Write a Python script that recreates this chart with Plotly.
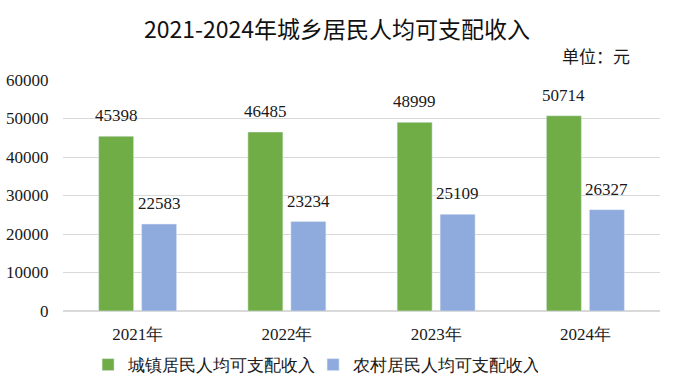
import plotly.graph_objects as go

years = ["2021年", "2022年", "2023年", "2024年"]
urban = [45398, 46485, 48999, 50714]
rural = [22583, 23234, 25109, 26327]
series_names = ["城镇居民人均可支配收入", "农村居民人均可支配收入"]
yticks = [0, 10000, 20000, 30000, 40000, 50000, 60000]
colors = ["#70AD47", "#8FAADC"]

serif = "Liberation Serif"
sans = "Noto Sans CJK SC"
txtcol = "#1a1a1a"

fig = go.Figure()
for name, vals, col in zip(series_names, [urban, rural], colors):
    fig.add_trace(go.Bar(x=years, y=vals, name=name, marker_color=col,
                         cliponaxis=False))

# value labels above bars (offset to each bar's slot within the group)
for vals, shift in zip([urban, rural], [-21.5, 21.5]):
    for xv, yv in zip(years, vals):
        fig.add_annotation(x=xv, y=yv, text=str(yv), showarrow=False,
                           xshift=shift, yshift=9, yanchor="bottom", xanchor="center",
                           font=dict(family=serif, size=17, color=txtcol))

fig.update_layout(
    width=674, height=388,
    margin=dict(l=63, r=14, t=80, b=77, autoexpand=False),
    paper_bgcolor="white", plot_bgcolor="white",
    barmode="group", bargap=0.424, bargroupgap=0.186,
    title=dict(text="2021-2024年城乡居民人均可支配收入", x=0.5, xanchor="center",
               y=1 - 30 / 388, yanchor="middle",
               font=dict(family=sans, size=23, color="#111111")),
    font=dict(family=serif, size=17, color=txtcol),
    showlegend=True,
    legend=dict(orientation="h", x=0.042, xanchor="left", y=-0.234, yanchor="middle",
                font=dict(family=serif, size=17, color=txtcol), itemwidth=30,
                entrywidth=180, traceorder="normal"),
)
fig.update_yaxes(range=[0, 60000], tickvals=yticks, ticktext=[str(v) for v in yticks],
                 showgrid=True, gridcolor="#D9D9D9", automargin=False,
                 gridwidth=1, zeroline=True, zerolinecolor="#D9D9D9", showline=False,
                 tickfont=dict(family=serif, size=17, color=txtcol),
                 ticks="outside", ticklen=10, tickcolor="rgba(0,0,0,0)")
fig.update_xaxes(showline=False, automargin=False, ticks="outside", ticklen=8,
                 tickcolor="rgba(0,0,0,0)",
                 tickfont=dict(family=serif, size=17, color=txtcol))
fig.add_annotation(text="单位：元", xref="paper", yref="paper", x=0.953, y=(311 - 56) / 231,
                   xanchor="right", yanchor="middle", showarrow=False,
                   font=dict(family=sans, size=17, color=txtcol))

fig.write_html("out.html", config={"displayModeBar": False},
               post_script="document.body.style.margin='0';")
